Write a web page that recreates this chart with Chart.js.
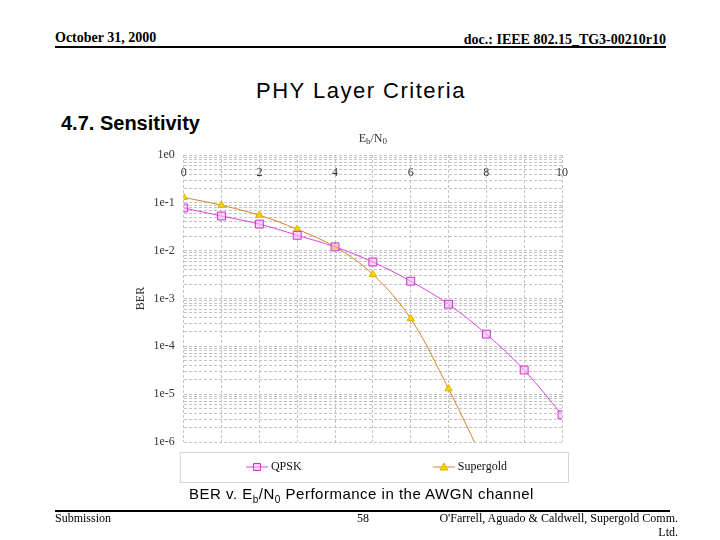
<!DOCTYPE html>
<html>
<head>
<meta charset="utf-8">
<script src="https://cdn.jsdelivr.net/npm/chart.js@4.4.0/dist/chart.umd.min.js"></script>
<style>
  body { margin: 0; width: 720px; height: 540px; background: #fff; position: relative; overflow: hidden; font-family: "Liberation Serif", serif; color: #000; }
  .abs { position: absolute; white-space: nowrap; }
  .hdr { font-weight: bold; font-size: 14px; line-height: 16px; }
  .rule { background: #000; height: 2px; }
  .foot { font-size: 12px; line-height: 14px; }
  #wrap { left: 121px; top: 128px; width: 458px; height: 358px; }
</style>
</head>
<body>
<div class="abs hdr" style="left:55px; top:30px;">October 31, 2000</div>
<div class="abs hdr" style="right:54px; top:32px;">doc.: IEEE 802.15_TG3-00210r10</div>
<div class="abs rule" style="left:55px; top:46px; width:611px;"></div>

<div class="abs" style="left:0; width:722px; text-align:center; top:77px; font-family:'Liberation Sans',sans-serif; font-size:22px; letter-spacing:1.5px; line-height:28px;">PHY Layer Criteria</div>
<div class="abs" style="left:61px; top:111px; font-family:'Liberation Sans',sans-serif; font-weight:bold; font-size:20px; line-height:24px;">4.7. Sensitivity</div>

<div id="wrap" class="abs"><canvas id="berChart"></canvas></div>

<div class="abs" style="left:189px; top:485px; font-family:'Liberation Sans',sans-serif; font-size:15px; letter-spacing:0.5px; line-height:18px;">BER v. E<sub style="font-size:10px;">b</sub>/N<sub style="font-size:10px;">0</sub> Performance in the AWGN channel</div>

<div class="abs rule" style="left:55px; top:510px; width:615px;"></div>
<div class="abs foot" style="left:55px; top:511px;">Submission</div>
<div class="abs foot" style="left:357px; top:511px;">58</div>
<div class="abs foot" style="right:42px; top:511px; text-align:right;">O'Farrell, Aguado &amp; Caldwell, Supergold Comm.<br>Ltd.</div>

<script>
const ebno = [0, 1, 2, 3, 4, 5, 6, 7, 8, 9, 10];
const qpsk = [7.8e-2, 5.3e-2, 3.6e-2, 2.1e-2, 1.2e-2, 5.8e-3, 2.3e-3, 7.6e-4, 1.8e-4, 3.2e-5, 3.7e-6];
const supergold = [1.3e-1, 8.9e-2, 5.5e-2, 2.8e-2, 1.2e-2, 3.2e-3, 3.8e-4, 1.3e-5, 3e-7];
const seriesNames = ["QPSK", "Supergold"];
const xTickLabels = ["0", "2", "4", "6", "8", "10"];
const yTickLabels = ["1e-6", "1e-5", "1e-4", "1e-3", "1e-2", "1e-1", "1e0"];

const tickFont = { family: "Liberation Serif", size: 12 };

// axis title with subscripts + boxed legend under the plot
const decor = {
  id: "decor",
  afterDraw(chart) {
    const { ctx, chartArea } = chart;
    ctx.save();
    // Eb/N0
    const parts = [["E", 12, 0], ["b", 9, 3], ["/N", 12, 0], ["0", 9, 3]];
    let w = 0;
    parts.forEach(p => { ctx.font = p[1] + "px 'Liberation Serif'"; w += ctx.measureText(p[0]).width; });
    let x = (chartArea.left + chartArea.right) / 2 - w / 2;
    const y = chartArea.top - 16;
    ctx.fillStyle = "#333";
    ctx.textBaseline = "middle";
    parts.forEach(p => {
      ctx.font = p[1] + "px 'Liberation Serif'";
      ctx.fillText(p[0], x, y + p[2]);
      x += ctx.measureText(p[0]).width;
    });

    // legend box
    const bx = chartArea.left - 4, bw = chartArea.right - chartArea.left + 10;
    const by = chartArea.bottom + 10, bh = 30;
    ctx.strokeStyle = "#d4d4d4";
    ctx.lineWidth = 1;
    ctx.strokeRect(bx + 0.5, by + 0.5, bw, bh);
    ctx.font = "12px 'Liberation Serif'";
    const shift = [-3, -1];
    chart.data.datasets.forEach((ds, i) => {
      const tw = ctx.measureText(ds.label).width;
      const itemW = 22 + 3 + tw;
      const cx = bx + bw * (i * 2 + 1) / 4 + shift[i];
      const sx = cx - itemW / 2;
      const cy = by + bh / 2;
      ctx.strokeStyle = ds.borderColor;
      ctx.beginPath();
      ctx.moveTo(sx, cy);
      ctx.lineTo(sx + 22, cy);
      ctx.stroke();
      const mx = sx + 11;
      ctx.fillStyle = ds.pointBackgroundColor;
      ctx.strokeStyle = ds.pointBorderColor;
      ctx.beginPath();
      if (ds.pointStyle === "rect") {
        ctx.rect(mx - 3.5, cy - 3.5, 7, 7);
      } else {
        ctx.moveTo(mx, cy - 4);
        ctx.lineTo(mx + 4, cy + 3);
        ctx.lineTo(mx - 4, cy + 3);
        ctx.closePath();
      }
      ctx.fill();
      ctx.stroke();
      ctx.fillStyle = "#111";
      ctx.textBaseline = "middle";
      ctx.fillText(ds.label, sx + 25, cy);
    });
    ctx.restore();
  }
};

new Chart(document.getElementById("berChart"), {
  type: "line",
  data: {
    datasets: [{
      label: seriesNames[0],
      data: ebno.map((x, i) => ({ x: x, y: qpsk[i] })),
      borderColor: "#dd44dd",
      borderWidth: 1,
      tension: 0.35,
      pointStyle: "rect",
      pointRadius: 5.6,
      pointBackgroundColor: "rgba(245,190,245,0.6)",
      pointBorderColor: "#cc33cc",
      pointBorderWidth: 1
    }, {
      label: seriesNames[1],
      data: supergold.map((y, i) => ({ x: ebno[i], y: y })),
      borderColor: "#d4852a",
      borderWidth: 1,
      tension: 0.35,
      pointStyle: "triangle",
      pointRadius: 4.2,
      pointBackgroundColor: "#f4d400",
      pointBorderColor: "#e0b000",
      pointBorderWidth: 1
    }]
  },
  options: {
    responsive: true,
    maintainAspectRatio: false,
    animation: false,
    layout: { padding: { left: 0, right: 5, top: 27, bottom: 44 } },
    plugins: {
      legend: { display: false },
      tooltip: { enabled: false }
    },
    scales: {
      x: {
        type: "linear",
        position: { y: 1 },
        min: 0,
        max: 10,
        ticks: {
          stepSize: 1,
          autoSkip: false,
          maxRotation: 0,
          padding: 11,
          font: tickFont,
          color: "#333",
          callback: v => xTickLabels.includes(String(v)) ? String(v) : ""
        },
        grid: { color: "#c4c4c4", drawTicks: false },
        border: { display: false, dash: [3, 2] }
      },
      y: {
        type: "logarithmic",
        min: 1e-6,
        max: 1,
        afterBuildTicks: s => {
          s.ticks = s.ticks.filter(t => {
            const m = t.value / Math.pow(10, Math.floor(Math.log10(t.value) + 1e-9));
            return Math.abs(m - Math.round(m)) < 1e-6;
          });
        },
        ticks: {
          autoSkip: false,
          padding: 9,
          font: tickFont,
          color: "#333",
          callback: v => {
            const e = Math.log10(v);
            if (Math.abs(e - Math.round(e)) > 1e-9) return "";
            const lbl = "1e" + Math.round(e);
            return yTickLabels.includes(lbl) ? lbl : "";
          }
        },
        grid: { color: "#c4c4c4", drawTicks: false },
        border: { display: false, dash: [3, 2] },
        title: { display: true, text: "BER", font: tickFont, color: "#333", padding: { top: 13, bottom: -4 } }
      }
    }
  },
  plugins: [decor]
});
</script>
</body>
</html>
